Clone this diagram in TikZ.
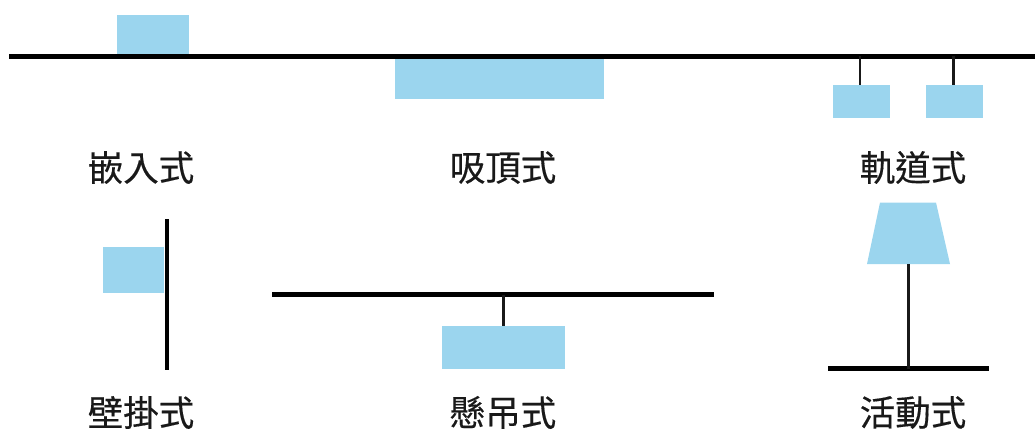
\documentclass[tikz,border=0pt]{standalone}
\usepackage{fontspec}
\newfontfamily\cjk[FakeBold=0.35]{Noto Sans CJK TC}
\definecolor{lampblue}{HTML}{9BD5EE}
\tikzset{
  lamp/.style={fill=lampblue,draw=none},
  thick line/.style={line width=5pt,black},
  wire/.style={line width=2.4pt,black!90},
  caption/.style={font=\cjk\fontsize{35.5}{38}\selectfont,text=black!90,inner sep=0pt,anchor=center}
}
\begin{document}
\begin{tikzpicture}[x=1pt,y=-1pt]
\useasboundingbox (0,0) rectangle (1035,431);
% lamps
\fill[lamp] (117,15) rectangle (188.5,54);
\fill[lamp] (395,58) rectangle (604,99);
\fill[lamp] (833,85) rectangle (890,118);
\fill[lamp] (926,85) rectangle (983,118);
\fill[lamp] (103,247) rectangle (164,293);
\fill[lamp] (442,326) rectangle (565,369);
\fill[lamp] (880,202.5) -- (936,202.5) -- (950,264) -- (867,264) -- cycle;
% structure
\coordinate (c1) at (9,56); \coordinate (c2) at (1035,56);
\draw[thick line] (c1) -- (c2);
\coordinate (t1) at (860,56); \coordinate (t1b) at (860,85);
\coordinate (t2) at (953.5,56); \coordinate (t2b) at (953.5,85);
\draw[wire] (t1) -- (t1b);
\draw[wire] (t2) -- (t2b);
\coordinate (w1) at (166.5,219); \coordinate (w2) at (166.5,370);
\draw[line width=4pt] (w1) -- (w2);
\coordinate (p1) at (272,294.5); \coordinate (p2) at (714,294.5);
\draw[thick line] (p1) -- (p2);
\coordinate (s1) at (503.5,294.5); \coordinate (s2) at (503.5,326);
\draw[wire] (s1) -- (s2);
\coordinate (b1) at (828,368.5); \coordinate (b2) at (989,368.5);
\draw[thick line] (b1) -- (b2);
\coordinate (l1) at (908.5,264); \coordinate (l2) at (908.5,368.5);
\draw[wire] (l1) -- (l2);
% captions
\node[caption] (a) at (141,167.5) {嵌入式};
\node[caption] (b) at (503,167.5) {吸頂式};
\node[caption] (c) at (913,167.5) {軌道式};
\node[caption] (d) at (141,412.5) {壁掛式};
\node[caption] (e) at (503,412.5) {懸吊式};
\node[caption] (f) at (913,412.5) {活動式};
\end{tikzpicture}
\end{document}
